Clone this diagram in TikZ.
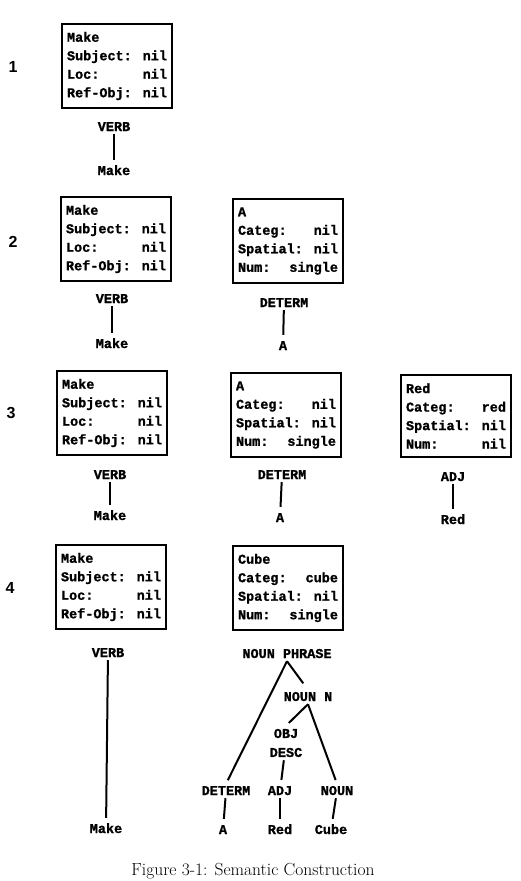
\documentclass[tikz,border=0pt]{standalone}
\usepackage{fontspec}
\usepackage{tikz}
\usetikzlibrary{positioning}
\newfontfamily\slotfont{Liberation Mono}[BoldFeatures={FakeBold=1.2}]
\newfontfamily\rowfont{Liberation Sans}
\newcommand{\kv}[2]{#1\hfill#2}

\begin{document}
\begin{tikzpicture}[x=1pt, y=-1pt,
    slotbox/.style={draw, line width=2pt, text width=100pt, inner xsep=5pt, inner ysep=8pt,
      align=left, font=\slotfont\bfseries\fontsize{13.5}{18.5}\selectfont},
    catfont/.style={inner sep=3pt, font=\slotfont\bfseries\fontsize{13.5}{19}\selectfont},
    cat/.style={catfont, text height=8pt, text depth=0pt},
    rownum/.style={font=\rowfont\bfseries\fontsize{16}{18}\selectfont},
    link/.style={line width=2pt, shorten >=4pt}]
  \useasboundingbox (0,0) rectangle (520,881);

  % Row numbers
  \node[rownum] (n1) at (13,67) {1};
  \node[rownum] (n2) at (13,242) {2};
  \node[rownum] (n3) at (11,413) {3};
  \node[rownum] (n4) at (10,588) {4};

  % Step 1
  \node[slotbox] (make1) at (117,66) {Make\\\kv{Subject:}{nil}\\\kv{Loc:}{nil}\\\kv{Ref-Obj:}{nil}};
  \node[cat] (verb1) at (114,127) {VERB};
  \node[cat] (wmake1) at (114,171) {Make};
  \draw[link] (verb1) -- (wmake1);

  % Step 2
  \node[slotbox] (make2) at (116,239) {Make\\\kv{Subject:}{nil}\\\kv{Loc:}{nil}\\\kv{Ref-Obj:}{nil}};
  \node[cat] (verb2) at (112,299) {VERB};
  \node[cat] (wmake2) at (112,344) {Make};
  \draw[link] (verb2) -- (wmake2);
  \node[slotbox] (a2) at (288,241) {A\\\kv{Categ:}{nil}\\\kv{Spatial:}{nil}\\\kv{Num:}{single}};
  \node[cat] (det2) at (284,303) {DETERM};
  \node[cat] (wa2) at (283,346) {A};
  \draw[link] (det2) -- (wa2);

  % Step 3
  \node[slotbox] (make3) at (112,413) {Make\\\kv{Subject:}{nil}\\\kv{Loc:}{nil}\\\kv{Ref-Obj:}{nil}};
  \node[cat] (verb3) at (110,475) {VERB};
  \node[cat] (wmake3) at (110,516) {Make};
  \draw[link] (verb3) -- (wmake3);
  \node[slotbox] (a3) at (286,415) {A\\\kv{Categ:}{nil}\\\kv{Spatial:}{nil}\\\kv{Num:}{single}};
  \node[cat] (det3) at (282,475) {DETERM};
  \node[cat] (wa3) at (280,518) {A};
  \draw[link] (det3) -- (wa3);
  \node[slotbox] (red3) at (456,416) {Red\\\kv{Categ:}{red}\\\kv{Spatial:}{nil}\\\kv{Num:}{nil}};
  \node[cat] (adj3) at (453,477) {ADJ};
  \node[cat] (wred3) at (453,520) {Red};
  \draw[link] (adj3) -- (wred3);

  % Step 4
  \node[slotbox] (make4) at (111,587) {Make\\\kv{Subject:}{nil}\\\kv{Loc:}{nil}\\\kv{Ref-Obj:}{nil}};
  \node[cat] (verb4) at (108,653) {VERB};
  \node[cat] (wmake4) at (106,829) {Make};
  \draw[link] (verb4) -- (wmake4);
  \node[slotbox] (cube4) at (288,588) {Cube\\\kv{Categ:}{cube}\\\kv{Spatial:}{nil}\\\kv{Num:}{single}};

  % Noun phrase tree
  \node[cat] (np) at (287,654) {NOUN PHRASE};
  \node[cat] (nn) at (308,697) {NOUN N};
  \node[catfont, align=center] (od) at (286,743) {OBJ\\DESC};
  \node[cat] (det4) at (226,791) {DETERM};
  \node[cat] (adj4) at (280,791) {ADJ};
  \node[cat] (noun4) at (337,791) {NOUN};
  \node[cat] (wa4) at (223,830) {A};
  \node[cat] (wred4) at (280,830) {Red};
  \node[cat] (wcube4) at (331,830) {Cube};
  \draw[link] (np.south) -- (det4.north);
  \draw[link, shorten >=8pt] (np.south) -- (nn.north);
  \draw[link] (nn.south) -- (od.north);
  \draw[link] (nn.south) -- (noun4.north);
  \draw[link] (od) -- (adj4);
  \draw[link] (det4) -- (wa4);
  \draw[link] (adj4) -- (wred4);
  \draw[link] (noun4) -- (wcube4);

  % Caption
  \node[font=\fontsize{17.5}{20}\selectfont] (cap) at (253,871) {Figure 3-1: Semantic Construction};
\end{tikzpicture}
\end{document}
